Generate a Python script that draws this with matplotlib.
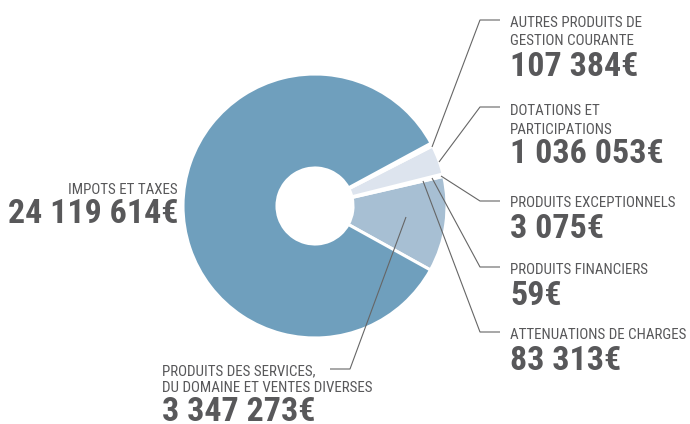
import matplotlib
matplotlib.use("Agg")
import matplotlib.pyplot as plt
from matplotlib import font_manager
from matplotlib.font_manager import FontProperties

# Revenue breakdown (euros)
categories = [
    "PRODUITS DES SERVICES,\nDU DOMAINE ET VENTES DIVERSES",
    "ATTENUATIONS DE CHARGES",
    "PRODUITS FINANCIERS",
    "PRODUITS EXCEPTIONNELS",
    "DOTATIONS ET\nPARTICIPATIONS",
    "AUTRES PRODUITS DE\nGESTION COURANTE",
    "IMPOTS ET TAXES",
]
values = [3347273, 83313, 59, 3075, 1036053, 107384, 24119614]
value_labels = ["3 347 273€", "83 313€", "59€", "3 075€", "1 036 053€", "107 384€", "24 119 614€"]
colors = ["#A7BFD3", "#FFFFFF", "#FFFFFF", "#FFFFFF", "#DDE4EE", "#FFFFFF", "#6F9FBD"]

W, H = 690, 424


def find_font(weight):
    """Pick a condensed sans-serif face of the requested weight."""
    prefs = ["Roboto Condensed", "Archivo Narrow", "PT Sans Narrow",
             "Barlow Condensed", "Liberation Sans Narrow"]
    fl = font_manager.fontManager.ttflist
    for name in prefs:
        cands = [f for f in fl if f.name == name and f.style == "normal"]
        if cands:
            best = min(cands, key=lambda f: abs(int(f.weight) - weight)
                       if str(f.weight).isdigit() else 999)
            return FontProperties(fname=best.fname)
    cands = [f for f in fl if f.name == "Roboto" and "condensed" in str(f.stretch)]
    if cands:
        best = min(cands, key=lambda f: abs(int(f.weight) - weight))
        return FontProperties(fname=best.fname)
    return FontProperties(family="Liberation Sans",
                          weight="bold" if weight >= 600 else "normal")


fp_reg = find_font(400)
fp_bold = find_font(700)

fig = plt.figure(figsize=(W / 100, H / 100), dpi=100)
ax = fig.add_axes([0, 0, 1, 1])

cx, cy = 315, H - 206
R, r_in = 132, 38

start = -29.0
ax.pie(values, colors=colors, startangle=start, counterclock=True,
       center=(cx, cy), radius=R, frame=True,
       wedgeprops=dict(width=R - r_in, edgecolor="white", linewidth=2.2))
ax.set_xlim(0, W)
ax.set_ylim(0, H)
ax.set_aspect("equal")
ax.axis("off")

txt = "#58585A"
lab_fs = 10.8
num_fs = 24.5


def Y(py):
    return H - py


def label_block(x, lines_y, lines, num_y, num, ha="left"):
    for ly, s in zip(lines_y, lines):
        ax.text(x, Y(ly), s, ha=ha, va="baseline", fontproperties=fp_reg,
                fontsize=lab_fs, color=txt)
    ax.text(x, Y(num_y), num, ha=ha, va="baseline", fontproperties=fp_bold,
            fontsize=num_fs, color=txt)


def leader(hx0, hx1, hy, tx, ty):
    ax.plot([hx1, hx0, tx], [Y(hy), Y(hy), Y(ty)], color="#666666", lw=0.8,
            solid_capstyle="butt")


# right-hand labels
label_block(510, [27, 45], ["AUTRES PRODUITS DE", "GESTION COURANTE"], 76, value_labels[5])
leader(480, 500, 20, 432, 147)

label_block(510, [115, 134], ["DOTATIONS ET", "PARTICIPATIONS"], 163, value_labels[4])
leader(480, 500, 107, 439, 162)

label_block(510, [207], ["PRODUITS EXCEPTIONNELS"], 238, value_labels[3])
leader(480, 500, 201, 441, 176)

label_block(510, [274], ["PRODUITS FINANCIERS"], 305, value_labels[2])
leader(480, 500, 267, 432, 178)

label_block(510, [339], ["ATTENUATIONS DE CHARGES"], 370, value_labels[1])
leader(480, 500, 332, 423, 181)

# left label
label_block(178, [194], ["IMPOTS ET TAXES"], 223, value_labels[6], ha="right")

# bottom label
label_block(162, [375, 392], ["PRODUITS DES SERVICES,", "DU DOMAINE ET VENTES DIVERSES"], 421, value_labels[0])
leader(350, 330, 369, 406, 217)

fig.savefig("out.png", dpi=100)
